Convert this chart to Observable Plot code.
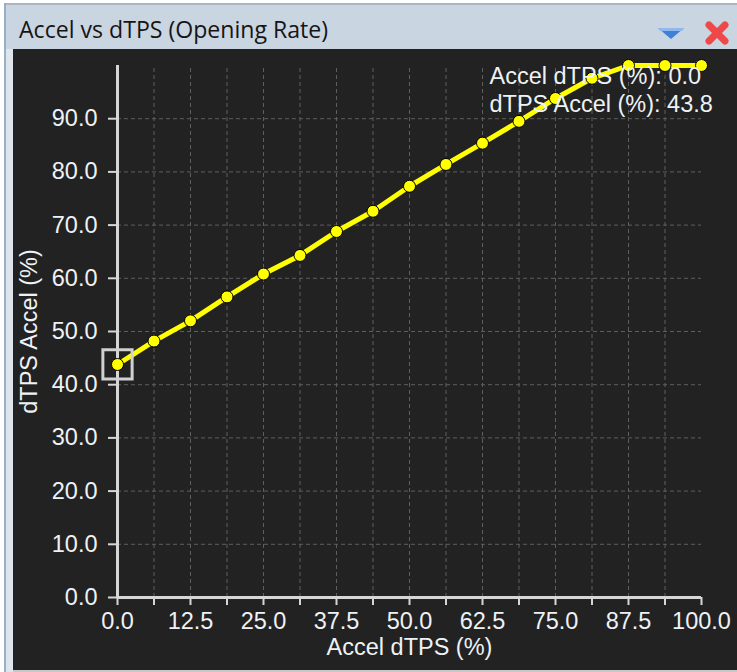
<!DOCTYPE html>
<html>
<head>
<meta charset="utf-8">
<script src="https://cdn.jsdelivr.net/npm/d3@7"></script>
<script src="https://cdn.jsdelivr.net/npm/@observablehq/plot@0.6"></script>
<style>
  html, body { margin: 0; padding: 0; background: #ffffff; width: 737px; height: 672px; overflow: hidden; }
  #win { position: absolute; left: 0; top: 0; width: 737px; height: 672px; }
  #leftline { position: absolute; left: 4px; top: 3px; width: 2px; height: 669px; background: #9aaec6; }
  #leftpad { position: absolute; left: 6px; top: 3px; width: 7px; height: 669px; background: #dfe5ec; }
  #titlebar { position: absolute; left: 6px; top: 3px; width: 731px; height: 46px; background: #c9d5e1; border-top: 2px solid #aab5c2; box-sizing: border-box; }
  #title { position: absolute; left: 13px; top: 10px; font-family: "Open Sans", "Noto Sans", sans-serif; font-size: 23.1px; line-height: 28px; color: #151515; white-space: nowrap; }
  #icons { position: absolute; left: 640px; top: 14px; }
  #chart { position: absolute; left: 13px; top: 49px; width: 724px; height: 621px; background: #222222; }
  #bottomline { position: absolute; left: 13px; top: 670px; width: 724px; height: 2px; background: #c8c8c8; }
</style>
</head>
<body>
<div id="win">
  <div id="leftline"></div>
  <div id="leftpad"></div>
  <div id="titlebar">
    <div id="title">Accel vs dTPS (Opening Rate)</div>
    <svg id="icons" width="97" height="30">
      <polygon points="12,9 38,9 25,20" fill="#3f7fd6"/>
      <polygon points="12,9 38,9 36,12 14,12" fill="#8fb8ee"/>
      <g stroke="#ee4848" stroke-width="7" stroke-linecap="round">
        <line x1="63" y1="6" x2="79" y2="22"/>
        <line x1="79" y1="6" x2="63" y2="22"/>
      </g>
    </svg>
  </div>
  <div id="chart"></div>
  <div id="bottomline"></div>
</div>
<script>
// ---- data ----
const accelDTPS = [0, 6.25, 12.5, 18.75, 25, 31.25, 37.5, 43.75, 50, 56.25, 62.5, 68.75, 75, 81.25, 87.5, 93.75, 100];
const dtpsAccel = [43.8, 48.2, 52.0, 56.5, 60.8, 64.3, 68.8, 72.6, 77.3, 81.4, 85.4, 89.5, 93.8, 97.6, 100, 100, 100];
const xTicks = [0, 6.25, 12.5, 18.75, 25, 31.25, 37.5, 43.75, 50, 56.25, 62.5, 68.75, 75, 81.25, 87.5, 93.75, 100];
const xLabelTicks = [0, 12.5, 25, 37.5, 50, 62.5, 75, 87.5, 100];
const xGrid = [6.25, 12.5, 18.75, 25, 31.25, 37.5, 43.75, 50, 56.25, 62.5, 68.75, 75, 81.25, 87.5, 93.75];
const yTicks = [0, 10, 20, 30, 40, 50, 60, 70, 80, 90];
const yGrid = [10, 20, 30, 40, 50, 60, 70, 80, 90];
const cursorX = 0;
const cursorY = 43.8;
const xTitle = "Accel dTPS (%)";
const yTitle = "dTPS Accel (%)";

const data = accelDTPS.map((x, i) => ({x, y: dtpsAccel[i]}));
const fmt = d3.format(".1f");
const readout = `${xTitle}: ${fmt(cursorX)}\n${yTitle}: ${fmt(cursorY)}`;

const axisColor = "#d6d6d6";
const textColor = "#eef2f6";
const fontSize = 23.5;

const chart = Plot.plot({
  width: 724,
  height: 621,
  marginLeft: 104,
  marginRight: 36,
  marginTop: 16,
  marginBottom: 73,
  style: {background: "#222222", fontFamily: "'Liberation Sans', Arial, sans-serif", fontSize: fontSize + "px", color: textColor},
  x: {domain: [0, 100]},
  y: {domain: [0, 100]},
  marks: [
    Plot.ruleX(xGrid, {stroke: "#5e5e5e", strokeWidth: 1, strokeDasharray: "4,3", y1: 0, y2: 100}),
    Plot.ruleY(yGrid, {stroke: "#5e5e5e", strokeWidth: 1, strokeDasharray: "4,3", x1: 0, x2: 100}),
    Plot.axisX(xTicks, {tickSize: 8, stroke: axisColor, strokeWidth: 2, tickFormat: () => "", label: null}),
    Plot.axisX(xLabelTicks, {tickSize: 0, tickPadding: 15, tickFormat: d => fmt(d), fill: textColor, fontSize: fontSize, label: null}),
    Plot.axisY(yTicks, {tickSize: 9, tickPadding: 11, stroke: axisColor, strokeWidth: 2, tickFormat: d => fmt(d), fill: textColor, fontSize: fontSize, label: null}),
    Plot.ruleX([0], {y1: 0, y2: 100, stroke: axisColor, strokeWidth: 3}),
    Plot.ruleY([0], {x1: 0, x2: 100, stroke: axisColor, strokeWidth: 3}),
    Plot.text([xTitle], {frameAnchor: "bottom", dy: 57, fill: textColor, fontSize: fontSize}),
    Plot.text([yTitle], {frameAnchor: "left", textAnchor: "middle", dx: -88, dy: 0, rotate: -90, fill: textColor, fontSize: fontSize}),
    Plot.line(data, {x: "x", y: "y", stroke: "#ffff00", strokeWidth: 5}),
    Plot.dot(data, {x: "x", y: "y", r: 6, fill: "#ffff00", stroke: "#000000", strokeWidth: 1}),
    Plot.dot([{x: cursorX, y: cursorY}], {x: "x", y: "y", symbol: "square", r: 16.5, fill: "none", stroke: "#d0d0d0", strokeWidth: 3}),
    Plot.text([readout], {frameAnchor: "top-right", textAnchor: "start", lineAnchor: "top", dx: -212, dy: -1, lineHeight: 1.19, fill: textColor, fontSize: fontSize})
  ]
});
document.getElementById("chart").appendChild(chart);
</script>
</body>
</html>
